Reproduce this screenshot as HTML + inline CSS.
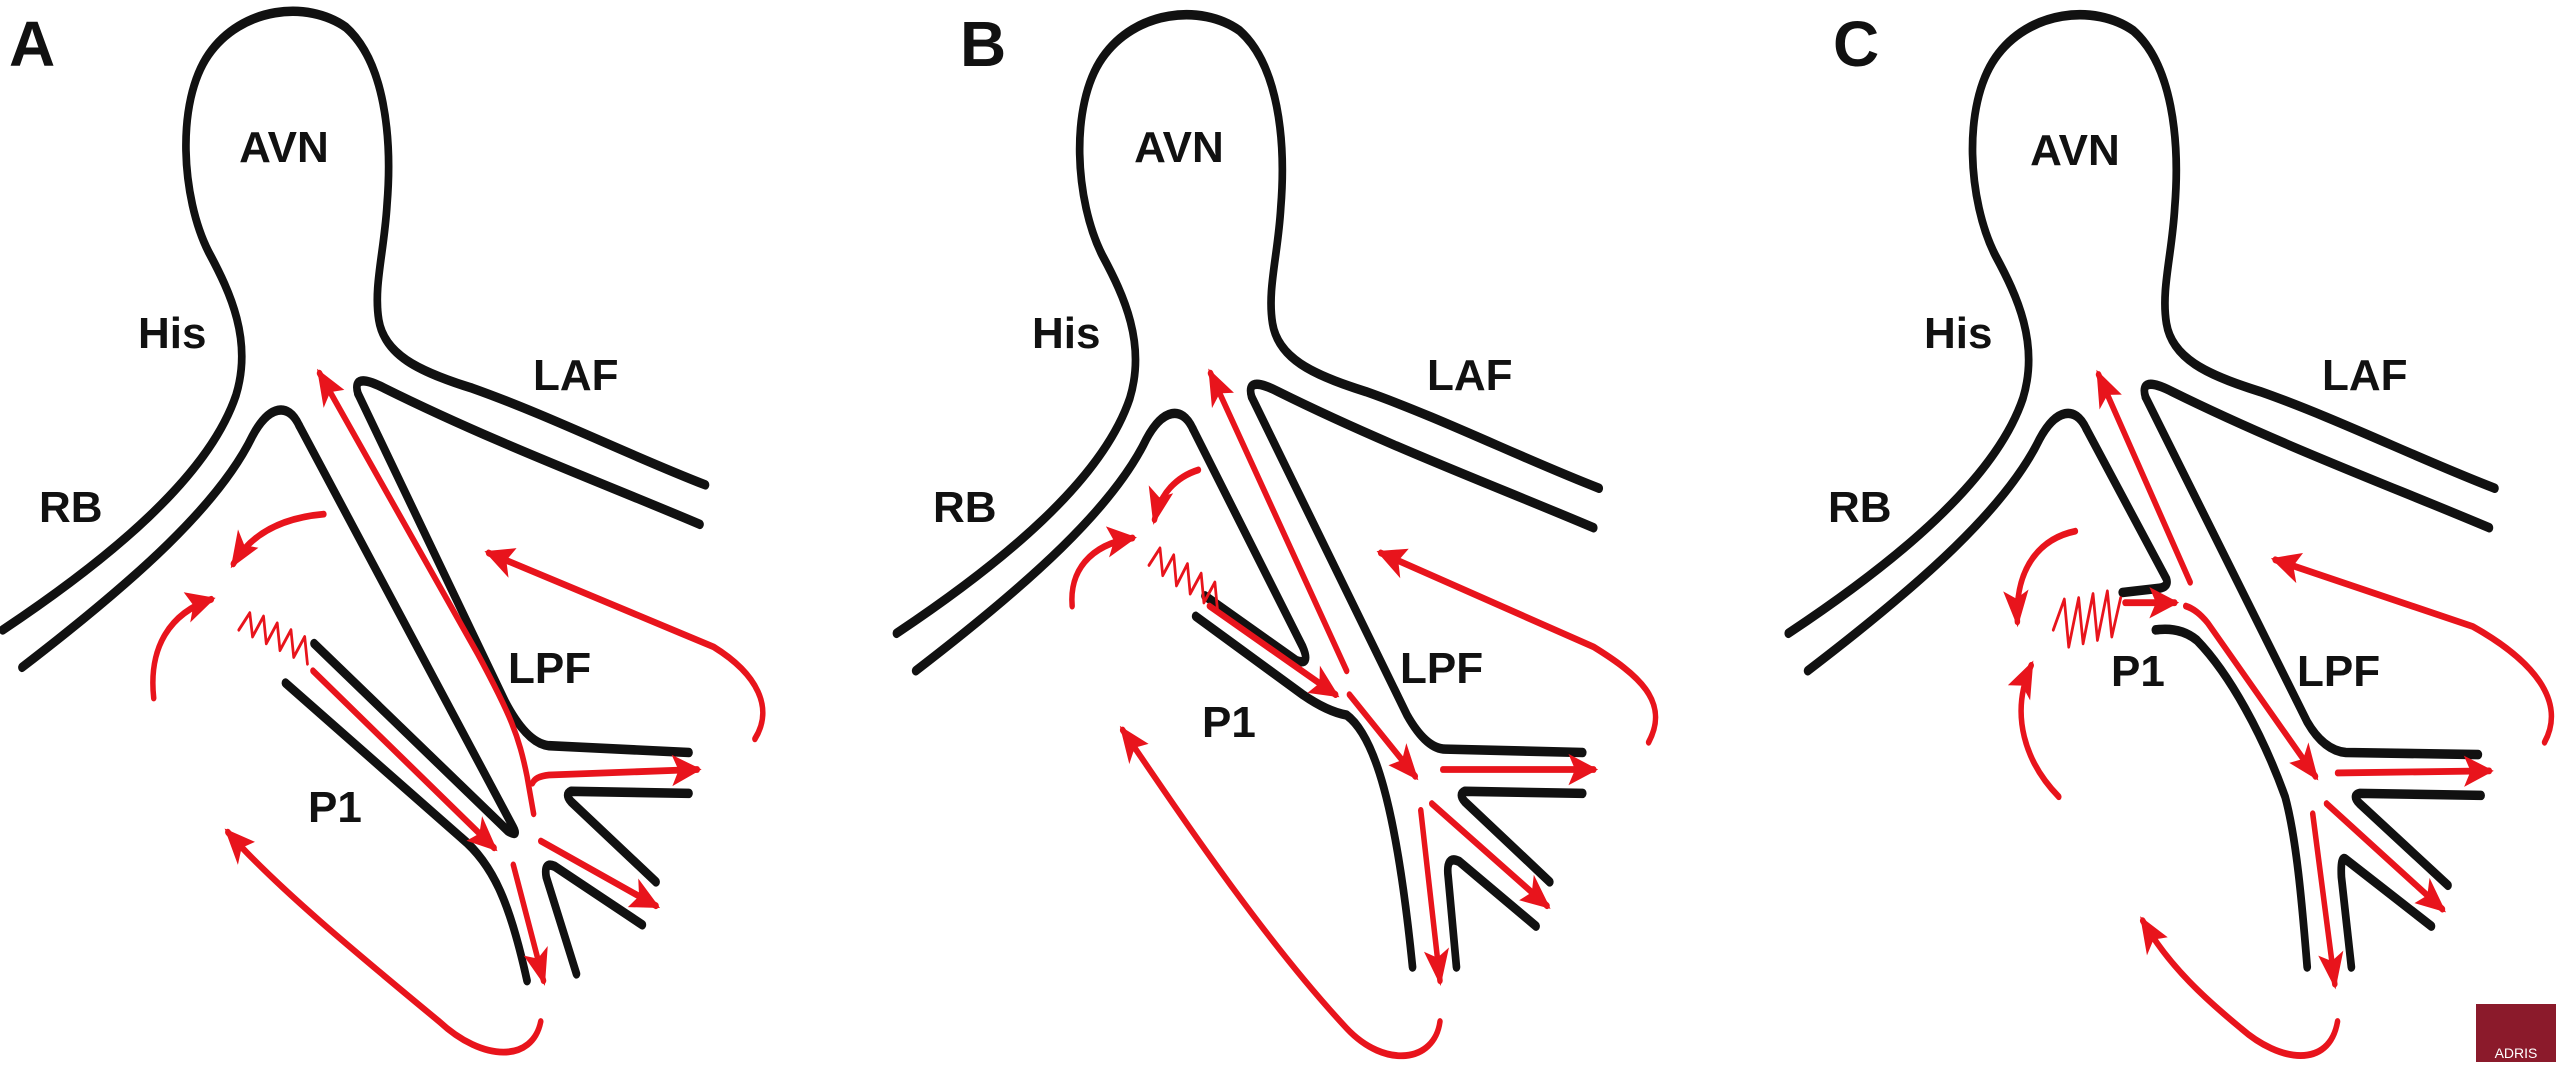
<!DOCTYPE html>
<html><head><meta charset="utf-8"><style>
html,body{margin:0;padding:0;background:#fff;}
svg{display:block;}
text{font-family:"Liberation Sans",sans-serif;font-weight:bold;fill:#111;}
</style></head><body>
<svg width="2564" height="1066" viewBox="0 0 2564 1066" xmlns="http://www.w3.org/2000/svg">
<defs>
<marker id="ah" markerUnits="userSpaceOnUse" markerWidth="60" markerHeight="54" refX="48" refY="27" orient="auto" viewBox="0 0 60 54">
<path d="M2,4 L56,27 L2,50 L14,27 z" fill="#e8141c"/>
</marker>
<g id="top">
<path d="M5,925 C200,820 380,700 430,580 C460,500 420,430 380,370 C330,290 320,150 380,80 C440,10 560,0 630,40 C700,90 715,200 705,300 C700,370 680,420 690,470 C700,520 760,545 860,570 C1000,610 1150,670 1285,712"/>
<path d="M1275,770 C1100,710 900,650 700,570 Q640,545 652,578"/>
<path d="M40,980 C250,850 400,740 460,640 C490,595 525,590 545,625"/>
</g>
</defs>
<g fill="none" stroke-linecap="round" stroke-linejoin="round">
<!-- Panel A -->
<g transform="translate(0,0) scale(0.549,0.681)">
<g stroke="#111" stroke-width="14">
<use href="#top"/>
<path d="M545,625 L935,1215 Q945,1230 925,1220 L572,945"/>
<path d="M520,1003 L840,1230 C900,1270 930,1330 960,1440"/>
<path d="M652,578 L920,1030 Q960,1092 1000,1095 L1255,1105"/>
<path d="M1255,1165 L1040,1162 Q1028,1166 1040,1177 L1195,1295"/>
<path d="M1170,1358 L1010,1272 Q990,1265 995,1288 L1050,1430"/>
</g>
<g stroke="#e8141c" stroke-width="10">
<path d="M972,1195 L960,1140 C945,1080 930,1050 870,960 L582,548" marker-end="url(#ah)"/>
<path d="M970,1150 Q975,1140 1000,1138 L1270,1130" marker-end="url(#ah)"/>
<path d="M570,985 L900,1245" marker-end="url(#ah)"/>
<path d="M985,1235 L1195,1330" marker-end="url(#ah)"/>
<path d="M935,1270 L990,1440" marker-end="url(#ah)"/>
<path d="M590,755 C520,760 460,780 425,828" marker-end="url(#ah)"/>
<path d="M280,1025 C270,950 310,900 385,880" marker-end="url(#ah)"/>
<path d="M985,1500 C970,1560 880,1560 800,1500 C650,1400 500,1300 415,1222" marker-end="url(#ah)"/>
<path d="M1375,1085 C1410,1040 1380,990 1300,950 L890,812" marker-end="url(#ah)"/>
<polyline stroke-width="5" points="435,925 455,900 460,935 480,905 485,945 505,915 510,955 530,925 535,965 555,935 560,975"/>
</g>
</g>
<!-- Panel B -->
<g transform="translate(880,0) scale(0.549,0.681)">
<g stroke="#111" stroke-width="14">
<use href="#top" transform="translate(25,5)"/>
<path d="M570,630 L770,950 Q785,978 758,970 L592,875"/>
<path d="M575,905 L770,1020 Q815,1045 850,1050 C900,1080 940,1180 970,1420"/>
<path d="M677,583 L960,1050 Q995,1100 1030,1100 L1280,1105"/>
<path d="M1280,1165 L1065,1162 Q1053,1166 1065,1177 L1220,1295"/>
<path d="M1195,1360 L1055,1265 Q1030,1255 1035,1288 L1050,1420"/>
</g>
<g stroke="#e8141c" stroke-width="10">
<path d="M850,985 L602,548" marker-end="url(#ah)"/>
<path d="M600,890 L830,1020" marker-end="url(#ah)"/>
<path d="M855,1020 L975,1140" marker-end="url(#ah)"/>
<path d="M1025,1130 L1300,1130" marker-end="url(#ah)"/>
<path d="M1005,1180 L1215,1330" marker-end="url(#ah)"/>
<path d="M985,1190 L1020,1440" marker-end="url(#ah)"/>
<path d="M580,690 C540,700 510,725 500,763" marker-end="url(#ah)"/>
<path d="M350,890 C345,840 380,800 460,790" marker-end="url(#ah)"/>
<path d="M1020,1500 C1010,1560 920,1570 850,1510 C700,1380 550,1200 442,1072" marker-end="url(#ah)"/>
<path d="M1400,1090 C1440,1030 1380,990 1300,950 L912,812" marker-end="url(#ah)"/>
<polyline stroke-width="5" points="490,830 510,805 515,845 535,815 540,860 560,828 565,872 585,842 590,885 610,855 615,898"/>
</g>
</g>
<!-- Panel C -->
<g transform="translate(1700,0) scale(0.552,0.681)">
<g stroke="#111" stroke-width="14">
<use href="#top" transform="translate(155,5)"/>
<path d="M700,630 L845,850 Q850,862 830,864 L765,870"/>
<path d="M825,925 Q870,920 900,940 C960,990 1020,1080 1060,1170 C1080,1230 1090,1320 1100,1420"/>
<path d="M807,583 L1100,1060 Q1130,1102 1170,1105 L1410,1108"/>
<path d="M1415,1168 L1195,1165 Q1180,1168 1195,1180 L1355,1300"/>
<path d="M1325,1360 L1170,1262 Q1160,1255 1162,1288 L1180,1420"/>
</g>
<g stroke="#e8141c" stroke-width="10">
<path d="M888,855 L722,550" marker-end="url(#ah)"/>
<path d="M770,885 L860,885" marker-end="url(#ah)"/>
<path d="M880,890 Q900,895 920,915 L1115,1140" marker-end="url(#ah)"/>
<path d="M1155,1135 L1430,1132" marker-end="url(#ah)"/>
<path d="M1135,1180 L1345,1335" marker-end="url(#ah)"/>
<path d="M1110,1195 L1150,1445" marker-end="url(#ah)"/>
<path d="M680,780 C620,790 570,830 575,913" marker-end="url(#ah)"/>
<path d="M650,1170 C590,1120 560,1050 600,977" marker-end="url(#ah)"/>
<path d="M1155,1500 C1140,1570 1050,1560 980,1510 C920,1470 850,1420 802,1352" marker-end="url(#ah)"/>
<path d="M1530,1090 C1570,1030 1510,970 1400,920 L1042,822" marker-end="url(#ah)"/>
<polyline stroke-width="5" points="640,925 660,880 668,950 686,878 694,945 712,872 720,940 738,868 746,935 762,878"/>
</g>
</g>
</g>
<!-- Labels -->
<g font-size="44">
<text x="9" y="66" font-size="64">A</text>
<text x="284" y="162" text-anchor="middle">AVN</text>
<text x="138" y="348">His</text>
<text x="533" y="390">LAF</text>
<text x="39" y="522">RB</text>
<text x="508" y="683">LPF</text>
<text x="308" y="822">P1</text>

<text x="960" y="66" font-size="64">B</text>
<text x="1179" y="162" text-anchor="middle">AVN</text>
<text x="1032" y="348">His</text>
<text x="1427" y="390">LAF</text>
<text x="933" y="522">RB</text>
<text x="1400" y="683">LPF</text>
<text x="1202" y="737">P1</text>

<text x="1833" y="66" font-size="64">C</text>
<text x="2075" y="165" text-anchor="middle">AVN</text>
<text x="1924" y="348">His</text>
<text x="2322" y="390">LAF</text>
<text x="1828" y="522">RB</text>
<text x="2297" y="686">LPF</text>
<text x="2111" y="686">P1</text>
</g>
<rect x="2476" y="1004" width="80" height="58" fill="#8b1a2b"/>
<text x="2516" y="1058" text-anchor="middle" font-size="14" style="fill:#fff;font-weight:normal">ADRIS</text>
</svg>
</body></html>
